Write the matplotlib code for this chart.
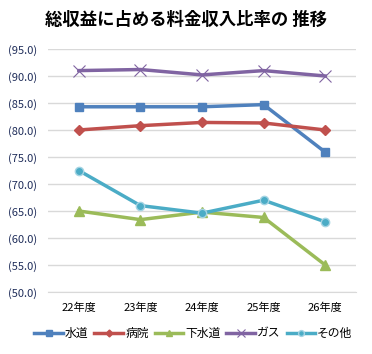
import matplotlib.pyplot as plt

plt.rcParams['font.family'] = ['Noto Sans CJK JP', 'DejaVu Sans']

years = ['22年度', '23年度', '24年度', '25年度', '26年度']
water = [84.3, 84.3, 84.3, 84.7, 75.9]
hospital = [80.0, 80.8, 81.4, 81.3, 80.0]
sewer = [65.0, 63.4, 64.8, 63.8, 55.0]
gas = [91.0, 91.2, 90.2, 91.0, 90.0]
other = [72.5, 66.0, 64.6, 67.0, 63.0]
yticks = [50, 55, 60, 65, 70, 75, 80, 85, 90, 95]

fig = plt.figure(figsize=(3.72, 3.54), dpi=100)
ax = fig.add_axes([48/372, 1-292/354, 308/372, 243/354])

x = range(len(years))
ax.plot(x, water, color='#4F81BD', marker='s', markersize=6, lw=2.5, label='水道')
ax.plot(x, hospital, color='#C0504D', marker='D', markersize=5, lw=2.5, label='病院')
ax.plot(x, sewer, color='#9BBB59', marker='^', markersize=7, lw=2.5, label='下水道')
ax.plot(x, gas, color='#8064A2', marker='x', markersize=9, mew=0.8, lw=2.5, label='ガス')
ax.plot(x, other, color='#4BACC6', marker='o', markersize=6, mec='#A5D4E3', lw=2.5, label='その他')

ax.set_xlim(-0.5, 4.5)
ax.set_ylim(50, 95)
ax.set_yticks(yticks)
ax.set_yticklabels(['(%.1f)' % v for v in yticks], fontsize=8, color='#1F2D5A')
ax.set_xticks(list(x))
ax.set_xticklabels(years, fontsize=8)
ax.grid(axis='y', color='#D9D9D9', lw=1)
ax.set_axisbelow(True)
for s in ['top', 'right', 'left']:
    ax.spines[s].set_visible(False)
ax.spines['bottom'].set_color('#D9D9D9')
ax.tick_params(length=0, pad=8)

fig.suptitle('総収益に占める料金収入比率の 推移', x=0.5, y=0.97, fontsize=12.5, fontweight='bold')
fig.legend(loc='lower center', bbox_to_anchor=(0.52, 0.01), ncol=5, frameon=False,
           fontsize=8.5, handlelength=2.4, columnspacing=0.5, handletextpad=0.2, markerscale=0.7)

fig.savefig('out.png', dpi=100)
